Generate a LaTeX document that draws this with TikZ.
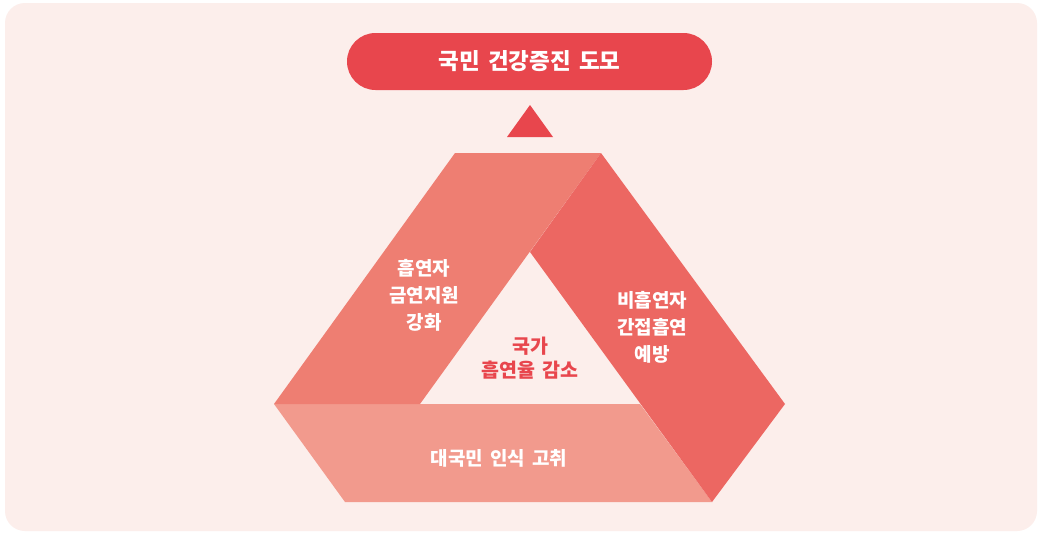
\documentclass[tikz,border=0pt]{standalone}
\usepackage{fontspec}
\setmainfont{Noto Sans CJK KR}[WordSpace=1.6]
\definecolor{cardbg}{HTML}{FCEEEB}
\definecolor{titlered}{HTML}{E8464D}
\definecolor{bandL}{HTML}{EE7E72}
\definecolor{bandR}{HTML}{EC6762}
\definecolor{bandB}{HTML}{F29A8D}
\tikzset{
  bandtext/.style={text=white, font=\bfseries\fontsize{19}{27}\selectfont, align=center, inner sep=0pt},
  centertext/.style={text=titlered, font=\bfseries\fontsize{19.5}{24}\selectfont, align=center, inner sep=0pt},
  titlepill/.style={fill=titlered, text=white, rounded corners=28.5pt, minimum width=365pt, minimum height=57pt, inner sep=0pt, font=\bfseries\fontsize{22.5}{26}\selectfont}
}
\begin{document}
\begin{tikzpicture}[x=1pt,y=-1pt]
\useasboundingbox (0,0) rectangle (1039,533);
\fill[white] (0,0) rectangle (1039,533);
\fill[cardbg, rounded corners=20pt] (5,3) rectangle (1037,531);
% bands
\fill[bandB] (274,404) -- (640,404) -- (712,502) -- (345,502) -- cycle;
\fill[bandL] (274,404) -- (455,153) -- (601,153) -- (420,404) -- cycle;
\fill[bandR] (601,153) -- (785,404) -- (712,502) -- (530,252) -- cycle;
% arrow triangle
\fill[titlered] (507,137) -- (530,105) -- (553,137) -- cycle;
% title
\node[titlepill] (title) at (529.5,61.5) {국민 건강증진 도모};
% texts
\node[bandtext] (left) at (424,295) {흡연자\\금연지원\\강화};
\node[bandtext] (right) at (652,327) {비흡연자\\간접흡연\\예방};
\node[bandtext] (bottom) at (499,458) {대국민 인식 고취};
\node[centertext] (center) at (530,358) {국가\\흡연율 감소};
\end{tikzpicture}
\end{document}
